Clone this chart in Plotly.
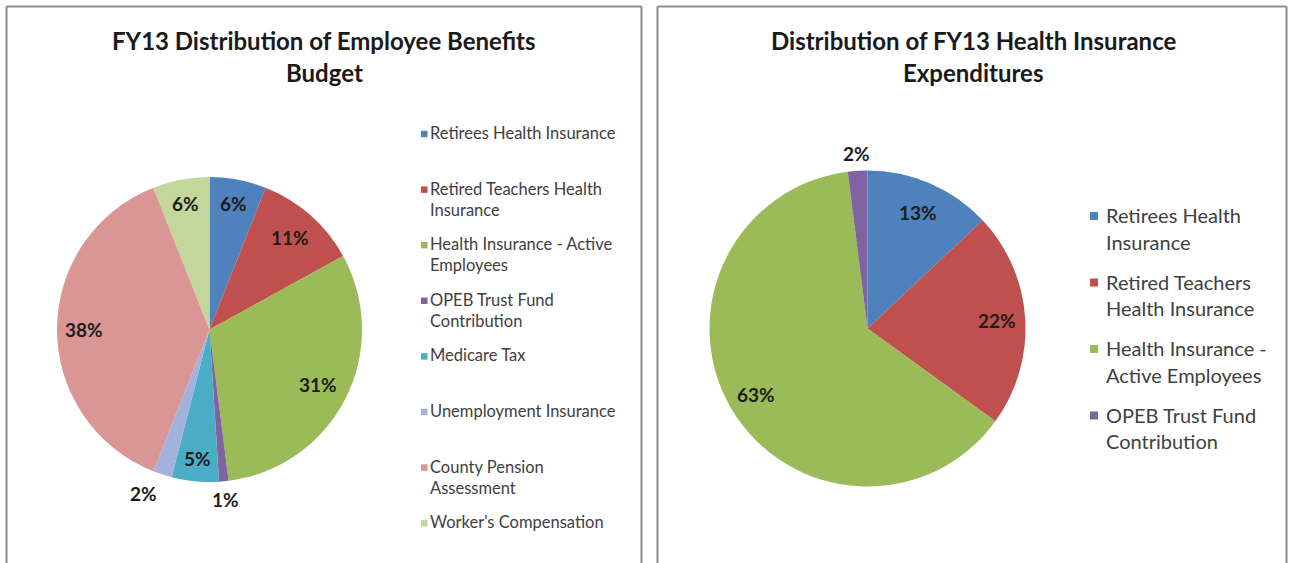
import math
import plotly.graph_objects as go

# ---- data -------------------------------------------------------------
benefit_categories = [
    "Retirees Health Insurance",
    "Retired Teachers Health Insurance",
    "Health Insurance - Active Employees",
    "OPEB Trust Fund Contribution",
    "Medicare Tax",
    "Unemployment Insurance",
    "County Pension Assessment",
    "Worker's Compensation",
]
benefit_shares = [6, 11, 31, 1, 5, 2, 38, 6]

health_categories = [
    "Retirees Health Insurance",
    "Retired Teachers Health Insurance",
    "Health Insurance - Active Employees",
    "OPEB Trust Fund Contribution",
]
health_shares = [13, 22, 63, 2]

# legend text as wrapped in each panel
benefit_legend_lines = [
    ["Retirees Health Insurance"],
    ["Retired Teachers Health", "Insurance"],
    ["Health Insurance - Active", "Employees"],
    ["OPEB Trust Fund", "Contribution"],
    ["Medicare Tax"],
    ["Unemployment Insurance"],
    ["County Pension", "Assessment"],
    ["Worker's Compensation"],
]
health_legend_lines = [
    ["Retirees Health", "Insurance"],
    ["Retired Teachers", "Health Insurance"],
    ["Health Insurance -", "Active Employees"],
    ["OPEB Trust Fund", "Contribution"],
]

# ---- styling ----------------------------------------------------------
W, H = 1289, 563
FONT = "Lato"
benefit_colors = ["#4F81BD", "#C0504D", "#9BBB59", "#8064A2",
                  "#4BACC6", "#A3B2DC", "#D99694", "#C3D69B"]
health_colors = ["#4F81BD", "#C0504D", "#9BBB59", "#8064A2"]

# label placement: fraction of radius, and angular nudge in degrees
benefit_label_r = [0.84, 0.80, 0.80, 1.12, 0.85, 1.16, 0.82, 0.84]
benefit_label_nudge = [0, 0, 0, 0, 0, 4, 0, 0]
health_label_r = [0.80, 0.82, 0.82, 1.11]
health_label_nudge = [0, 0, 0, 0]

LEFT_PIE = dict(cx=209.5, cy=329.5, r=152.5)
RIGHT_PIE = dict(cx=867.5, cy=328.5, r=158.0)


def px(x):
    return x / W


def py(y):
    return 1 - y / H


def pie_domain(p):
    return dict(x=[px(p["cx"] - p["r"]), px(p["cx"] + p["r"])],
                y=[py(p["cy"] + p["r"]), py(p["cy"] - p["r"])])


fig = go.Figure()
fig.add_trace(go.Pie(
    labels=benefit_categories, values=benefit_shares,
    sort=False, direction="clockwise", rotation=0,
    marker=dict(colors=benefit_colors, line=dict(width=0)),
    textinfo="none", showlegend=False, domain=pie_domain(LEFT_PIE),
    hovertemplate="%{label}: %{percent}<extra></extra>",
))
fig.add_trace(go.Pie(
    labels=health_categories, values=health_shares,
    sort=False, direction="clockwise", rotation=0,
    marker=dict(colors=health_colors, line=dict(width=0)),
    textinfo="none", showlegend=False, domain=pie_domain(RIGHT_PIE),
    hovertemplate="%{label}: %{percent}<extra></extra>",
))

annotations = []
shapes = []


def add_data_labels(values, pie, radii, nudges):
    total = sum(values)
    cum = 0.0
    for v, k, n in zip(values, radii, nudges):
        frac = (cum + v / 2) / total
        cum += v
        theta = 2 * math.pi * frac + math.radians(n)
        x = pie["cx"] + k * pie["r"] * math.sin(theta)
        y = pie["cy"] - k * pie["r"] * math.cos(theta)
        annotations.append(dict(
            x=px(x), y=py(y), xref="paper", yref="paper",
            text=f"<b>{round(100 * v / total)}%</b>", showarrow=False,
            font=dict(family=FONT, size=19, color="#1c1c1c"),
            xanchor="center", yanchor="middle",
        ))


def add_legend(lines, colors, x_sq, sq, x_text, y0, step, line_gap, size):
    for i, (entry, c) in enumerate(zip(lines, colors)):
        y = y0 + i * step
        shapes.append(dict(
            type="rect", xref="paper", yref="paper",
            x0=px(x_sq), x1=px(x_sq + sq),
            y0=py(y + sq / 2 + 1), y1=py(y - sq / 2 + 1),
            fillcolor=c, line=dict(width=0),
        ))
        for j, t in enumerate(entry):
            annotations.append(dict(
                x=px(x_text), y=py(y + j * line_gap), xref="paper", yref="paper",
                text=t, showarrow=False, xanchor="left", yanchor="middle",
                font=dict(family=FONT, size=size, color="#404040"),
            ))


def add_title(lines, xc, y0, gap, size):
    for j, t in enumerate(lines):
        annotations.append(dict(
            x=px(xc), y=py(y0 + j * gap), xref="paper", yref="paper",
            text=f"<b>{t}</b>", showarrow=False,
            xanchor="center", yanchor="middle",
            font=dict(family=FONT, size=size, color="#1a1a1a"),
        ))


add_data_labels(benefit_shares, LEFT_PIE, benefit_label_r, benefit_label_nudge)
add_data_labels(health_shares, RIGHT_PIE, health_label_r, health_label_nudge)

add_legend(benefit_legend_lines, benefit_colors, 421, 6.5, 428,
           133, 55.6, 21, 16.5)
add_legend(health_legend_lines, health_colors, 1090, 8, 1104,
           215, 66.5, 26.5, 20)

add_title(["FY13 Distribution of Employee Benefits", "Budget"], 324, 41, 32, 24)
add_title(["Distribution of FY13 Health Insurance", "Expenditures"], 973, 41, 32, 24)

# panel frames (open at the bottom edge of the page)
for x0, x1 in [(6.5, 641.5), (657.5, 1286.5)]:
    for seg in [(x0, H + 5, x0, 6.5), (x0, 6.5, x1, 6.5), (x1, 6.5, x1, H + 5)]:
        shapes.append(dict(
            type="line", xref="paper", yref="paper",
            x0=px(seg[0]), y0=py(seg[1]), x1=px(seg[2]), y1=py(seg[3]),
            line=dict(color="#8c8c8c", width=2),
        ))

fig.update_layout(
    width=W, height=H,
    margin=dict(l=0, r=0, t=0, b=0),
    paper_bgcolor="white", plot_bgcolor="white",
    annotations=annotations, shapes=shapes,
    font=dict(family=FONT),
)

fig.write_html("out.html")
